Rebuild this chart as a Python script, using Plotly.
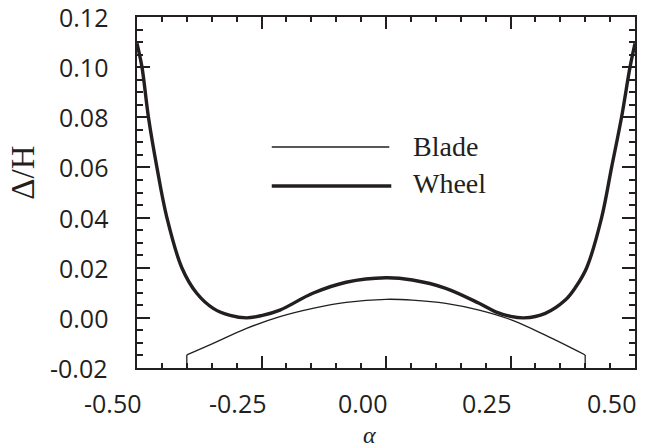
import plotly.graph_objects as go

# ---- data ----
wheel_alpha = [-0.50, -0.49, -0.477, -0.46, -0.44, -0.41, -0.38, -0.347, -0.313, -0.28,
               -0.25, -0.213, -0.147, -0.08, 0.0, 0.053, 0.12, 0.187, 0.22, 0.25,
               0.277, 0.32, 0.36, 0.38, 0.403, 0.433, 0.453, 0.473, 0.49, 0.50]
wheel_delta = [0.1095, 0.100, 0.080, 0.060, 0.040, 0.020, 0.0098, 0.0038, 0.0010, 0.0000,
               0.0009, 0.0031, 0.0098, 0.0142, 0.0160, 0.0151, 0.0118, 0.0058, 0.0024, 0.0006,
               0.0000, 0.0018, 0.0071, 0.0120, 0.020, 0.040, 0.060, 0.080, 0.100, 0.1095]

blade_alpha = [-0.40, -0.347, -0.28, -0.213, -0.147, -0.08, 0.0, 0.053, 0.12, 0.187,
               0.253, 0.32, 0.40]
blade_delta = [-0.0148, -0.0102, -0.0042, 0.0005, 0.0038, 0.0062, 0.0074, 0.0071, 0.0058, 0.0031,
               -0.0009, -0.0069, -0.0148]
blade_end_alpha = [-0.40, 0.40]
blade_end_top = [-0.0148, -0.0148]
blade_end_bottom = [-0.020, -0.020]

x_tickvals = [-0.50, -0.25, 0.0, 0.25, 0.50]
x_ticktext = ["-0.50", "-0.25", "0.00", "0.25", "0.50"]
y_tickvals = [-0.02, 0.0, 0.02, 0.04, 0.06, 0.08, 0.10, 0.12]
y_ticktext = ["-0.02", "0.00", "0.02", "0.04", "0.06", "0.08", "0.10", "0.12"]

series_names = ["Blade", "Wheel"]

INK = "#231f20"
SANS = "Open Sans"
SERIF = "Liberation Serif"

fig = go.Figure()

fig.add_trace(go.Scatter(x=blade_alpha, y=blade_delta, mode="lines",
                         line=dict(color=INK, width=1.3, shape="spline", smoothing=1.0),
                         showlegend=False, name=series_names[0]))
for a, t, b in zip(blade_end_alpha, blade_end_top, blade_end_bottom):
    fig.add_trace(go.Scatter(x=[a, a], y=[b, t], mode="lines",
                             line=dict(color=INK, width=1.3),
                             showlegend=False, hoverinfo="skip"))

fig.add_trace(go.Scatter(x=wheel_alpha, y=wheel_delta, mode="lines",
                         line=dict(color=INK, width=3.4, shape="spline", smoothing=1.0),
                         showlegend=False, name=series_names[1]))

# ---- custom legend (long line samples, serif text) ----
fig.add_shape(type="line", xref="paper", yref="paper", x0=0.2706, x1=0.5066, y0=0.6296, y1=0.6296,
              line=dict(color=INK, width=1.3))
fig.add_shape(type="line", xref="paper", yref="paper", x0=0.2706, x1=0.5106, y0=0.5185, y1=0.5185,
              line=dict(color=INK, width=3.4))
fig.add_annotation(xref="paper", yref="paper", x=0.5506, y=0.631, text=series_names[0],
                   showarrow=False, xanchor="left", yanchor="middle",
                   font=dict(family=SERIF, size=28, color=INK))
fig.add_annotation(xref="paper", yref="paper", x=0.5506, y=0.527, text=series_names[1],
                   showarrow=False, xanchor="left", yanchor="middle",
                   font=dict(family=SERIF, size=28, color=INK))

# ---- tick labels (x labels sit left of their ticks, as in the reference) ----
for v, t in zip(x_tickvals, x_ticktext):
    fig.add_annotation(xref="x", yref="paper", x=v, y=0, text=t, showarrow=False,
                       xanchor="center", yanchor="top", xshift=-24, yshift=-16,
                       font=dict(family=SANS, size=25, color=INK))
for v, t in zip(y_tickvals, y_ticktext):
    fig.add_annotation(xref="paper", yref="y", x=0, y=v, text=t, showarrow=False,
                       xanchor="right", yanchor="middle", xshift=-27,
                       font=dict(family=SANS, size=25, color=INK))

# ---- axis titles ----
fig.add_annotation(xref="paper", yref="paper", x=-0.2294, y=0.5556, text="Δ/H",
                   showarrow=False, textangle=-90, xanchor="center", yanchor="middle",
                   font=dict(family=SERIF, size=33, color=INK))
fig.add_annotation(xref="paper", yref="paper", x=0.4666, y=-0.19, text="<i>α</i>",
                   showarrow=False, xanchor="center", yanchor="middle",
                   font=dict(family=SERIF, size=24, color=INK))

axis_common = dict(showline=True, linecolor=INK, linewidth=1.5, mirror="ticks",
                   ticks="inside", tickcolor=INK, tickwidth=2,
                   showgrid=False, zeroline=False, showticklabels=False)

fig.update_xaxes(range=[-0.5, 0.5], tickmode="linear", tick0=0, dtick=0.25, ticklen=12,
                 minor=dict(ticks="inside", ticklen=5, dtick=0.05, tick0=0),
                 **axis_common)
fig.update_yaxes(range=[-0.02, 0.12], tickmode="linear", tick0=0, dtick=0.02, ticklen=13,
                 minor=dict(ticks="inside", ticklen=6, dtick=0.005, tick0=0),
                 **axis_common)

fig.update_layout(width=648, height=448,
                  margin=dict(l=137, r=11, t=17, b=80),
                  paper_bgcolor="white", plot_bgcolor="white",
                  showlegend=False)

fig.write_html("out.html")
